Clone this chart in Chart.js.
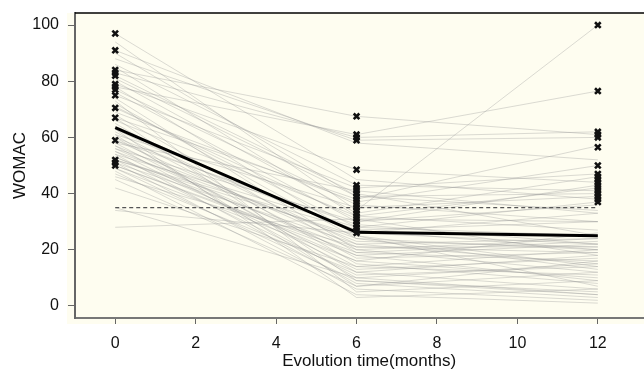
<!DOCTYPE html>
<html>
<head>
<meta charset="utf-8">
<script src="https://cdn.jsdelivr.net/npm/chart.js@4.4.1/dist/chart.umd.min.js"></script>
<style>
  html, body { margin: 0; padding: 0; background: #ffffff; overflow: hidden; }
  #wrap { width: 644px; height: 374px; overflow: hidden; position: relative; }
  canvas { display: block; }
</style>
</head>
<body>
<div id="wrap"><canvas id="c" width="670" height="374"></canvas></div>
<script>
// ---- DATA ----
const months = [0, 6, 12];
const xTicks = [0, 2, 4, 6, 8, 10, 12];
const yTicks = [0, 20, 40, 60, 80, 100];
// WOMAC per patient at baseline, 6 and 12 months (approximate)
const w0  = [97, 91, 84, 83, 82, 79, 78, 77, 75, 70.5, 67, 59, 52, 51, 50,
             94, 88, 86, 81, 80, 78, 76, 74, 72, 71, 69, 68, 66, 65, 64,
             63, 62, 61, 60, 60, 59, 58, 58, 57, 57, 56, 56, 55, 55, 54,
             54, 53, 53, 52, 52, 51, 50, 49, 49, 48, 47, 46, 45, 42, 35,
             34, 28, 73, 67, 63, 61, 90, 85];
const w6  = [45, 58, 67.5, 60, 40, 48.5, 61, 36, 42, 31, 38, 29, 27, 22, 18,
             34, 59, 43, 39, 33, 25, 30, 20, 24, 28, 37, 19, 32, 15, 26,
             22, 17, 35, 12, 27, 21, 14, 41, 23, 10, 30, 18, 13, 24, 8,
             28, 16, 20, 11, 25, 6, 19, 9, 16, 4, 12, 21, 7, 14, 10,
             26, 31, 5, 9, 3, 7, 39, 32];
const w12 = [38, 52, 61, 62, 25, 44, 76.5, 30, 47, 18, 57, 22, 20, 15, 9,
             100, 60, 41, 40, 46, 14, 43, 12, 20, 37, 50, 16, 42, 8, 33,
             24, 19, 39, 6, 30, 19, 11, 33, 21, 4, 36, 22, 17, 13, 3,
             25, 10, 24, 14, 7, 2, 23, 5, 26, 1, 18, 21, 12, 20, 15,
             22, 30, 9, 4, 6, 16, 34, 27];
// marked (x) observations
const cross0  = [97, 91, 84, 83, 82, 79, 78, 77, 75, 70.5, 67, 59, 52, 51, 50];
const cross6  = [67.5, 61, 60, 59, 48.5, 43, 42, 41, 40, 39, 38, 37, 36, 35, 34, 33, 32, 31, 30, 29, 28, 27, 26];
const cross12 = [100, 76.5, 62, 61, 60, 56.5, 50, 47, 46, 45, 44, 43, 42, 41, 40, 39, 38, 37];
// mean trajectory and reference threshold
const meanWomac = [63.5, 26.2, 25];
const threshold = 35;

// ---- BUILD DATASETS ----
const datasets = [];
const crossPts = [];
cross0.forEach(v => crossPts.push({x: months[0], y: v}));
cross6.forEach(v => crossPts.push({x: months[1], y: v}));
cross12.forEach(v => crossPts.push({x: months[2], y: v}));
datasets.push({
  data: crossPts, showLine: false, pointStyle: 'crossRot', pointRadius: 4,
  borderColor: '#111', backgroundColor: '#111', pointBorderWidth: 2.6, order: 0
});
datasets.push({
  data: months.map((m, i) => ({x: m, y: meanWomac[i]})), showLine: true,
  borderColor: '#000', borderWidth: 3, pointRadius: 0, order: 1
});
datasets.push({
  data: [{x: months[0], y: threshold}, {x: months[2], y: threshold}], showLine: true,
  borderColor: '#555', borderWidth: 1.3, borderDash: [4, 3], pointRadius: 0, order: 2
});
for (let i = 0; i < w0.length; i++) {
  datasets.push({
    data: [{x: months[0], y: w0[i]}, {x: months[1], y: w6[i]}, {x: months[2], y: w12[i]}],
    showLine: true, borderColor: 'rgba(150,150,150,0.38)', borderWidth: 0.9,
    pointRadius: 0, order: 3
  });
}

const bgPlugin = {
  id: 'bg',
  beforeDraw(chart) {
    const {ctx, chartArea: a} = chart;
    ctx.save();
    ctx.fillStyle = '#fefdf0';
    ctx.fillRect(a.left - 8, a.top, a.right - a.left + 8, a.bottom - a.top + 6);
    ctx.restore();
  },
  afterDraw(chart) {
    const {ctx, chartArea: a} = chart;
    ctx.save();
    ctx.strokeStyle = '#000';
    ctx.lineWidth = 1.5;
    ctx.beginPath();
    ctx.moveTo(a.left, a.top);
    ctx.lineTo(a.right, a.top);
    ctx.stroke();
    ctx.restore();
  }
};

const font = {family: '"Liberation Sans", Arial, sans-serif', size: 16};
new Chart(document.getElementById('c'), {
  type: 'scatter',
  data: {datasets},
  options: {
    responsive: false,
    animation: false,
    layout: {padding: {top: 13, right: 1, left: 0, bottom: 0}},
    plugins: {legend: {display: false}, tooltip: {enabled: false}},
    scales: {
      x: {
        type: 'linear', min: -1.0, max: 13.63,
        afterFit(s) { s.height = 56; s.paddingLeft = 0; s.paddingRight = 0; },
        afterBuildTicks(s) { s.ticks = xTicks.map(v => ({value: v})); },
        grid: {drawOnChartArea: false, drawTicks: true, tickLength: 6, tickColor: '#666'},
        border: {display: true, color: '#777', width: 2},
        ticks: {font, color: '#111', padding: 10, maxRotation: 0, autoSkip: false},
        title: {display: true, text: 'Evolution time(months)', color: '#111',
                font: {family: font.family, size: 17}, padding: {top: 0, bottom: 2}}
      },
      y: {
        type: 'linear', min: -4.3, max: 104.3,
        afterFit(s) { s.width = 75; s.paddingTop = 0; s.paddingBottom = 0; },
        afterBuildTicks(s) { s.ticks = yTicks.map(v => ({value: v})); },
        grid: {drawOnChartArea: false, drawTicks: true, tickLength: 7, tickColor: '#666'},
        border: {display: true, color: '#666', width: 2},
        ticks: {font, color: '#111', padding: 9, autoSkip: false},
        title: {display: true, text: 'WOMAC', color: '#111',
                font: {family: font.family, size: 17}, padding: {top: 10, bottom: 0}}
      }
    }
  },
  plugins: [bgPlugin]
});
</script>
</body>
</html>
